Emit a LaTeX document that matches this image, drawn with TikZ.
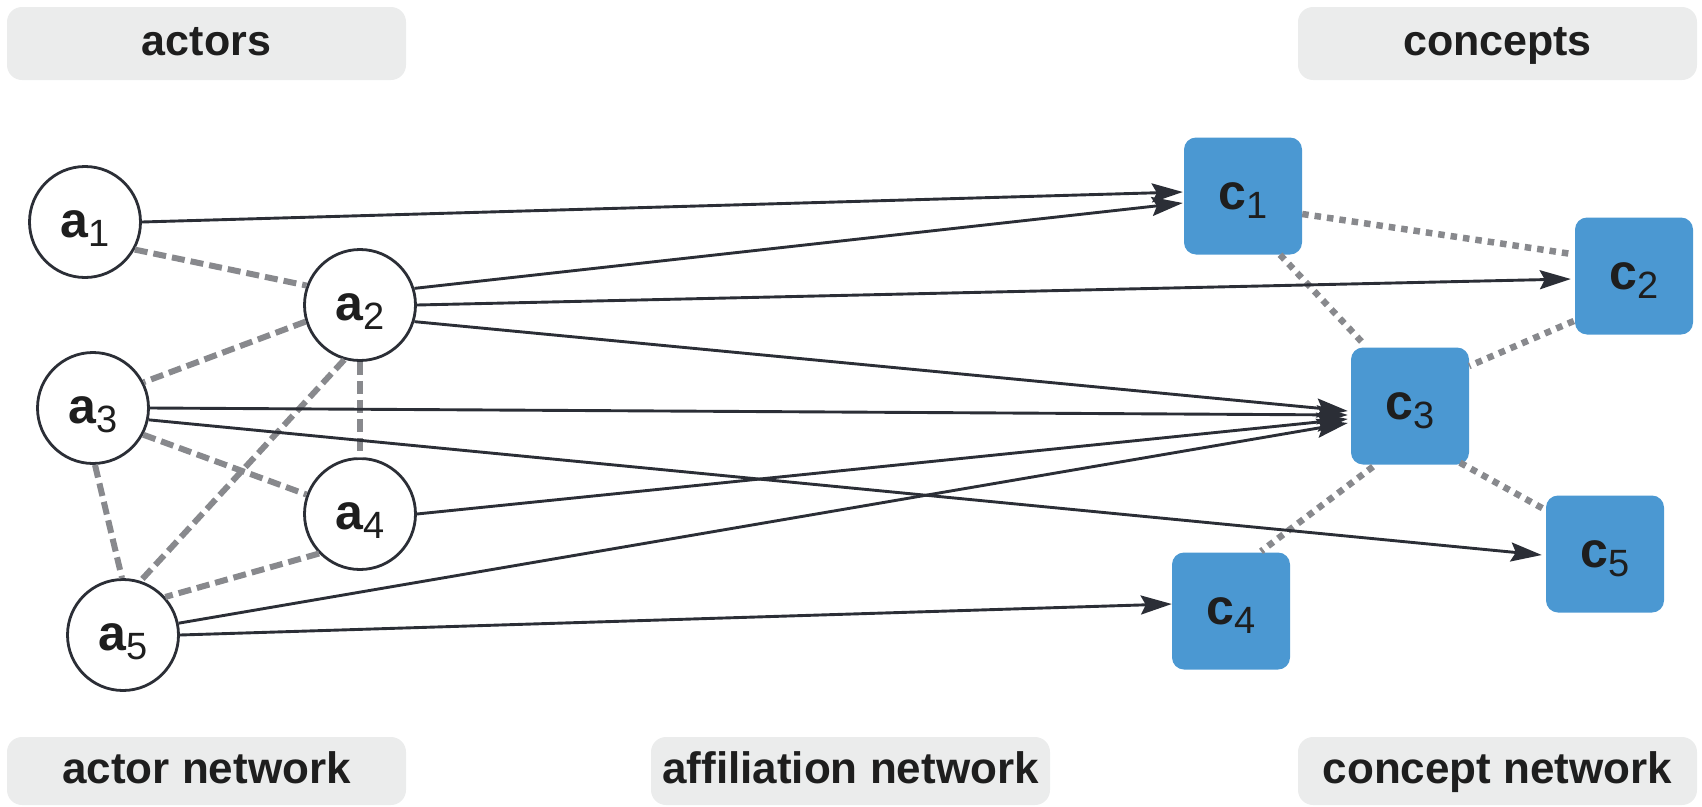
\documentclass[tikz,border=0pt]{standalone}
\usepackage{fontspec}
\setmainfont{Liberation Sans}
\usetikzlibrary{arrows.meta,calc}
\definecolor{ink}{HTML}{2B2E36}
\definecolor{dgray}{HTML}{88898D}
\definecolor{lgray}{HTML}{EBECEC}
\definecolor{txt}{HTML}{1E1E1E}
\definecolor{cblue}{HTML}{4B98D2}
\newcommand\nlab[2]{{\fontsize{50}{50}\selectfont\bfseries #1}\hspace{1pt}\raisebox{-9pt}{\fontsize{38}{38}\selectfont #2}}
\begin{document}
\begin{tikzpicture}[x=1pt,y=-1pt,
  actor/.style={circle,draw=ink,line width=2.8pt,fill=white,minimum size=111pt,inner sep=0pt,text height=30pt,text depth=0pt,text=txt},
  concept/.style={rectangle,fill=cblue,rounded corners=12pt,minimum width=118pt,minimum height=117pt,inner sep=0pt,text height=26pt,text depth=0pt,text=txt},
  lblbox/.style={fill=lgray,rounded corners=15pt,minimum width=399pt,inner sep=0pt,text height=24pt,text depth=0pt,font=\fontsize{44}{44}\selectfont\bfseries,text=txt},
  aff/.style={draw=ink,line width=2.9pt,-{Stealth[length=31pt,width=19pt,inset=5pt]}},
  anet/.style={draw=dgray,line width=6pt,dash pattern=on 13pt off 6pt},
  cnet/.style={draw=dgray,line width=6.5pt,dash pattern=on 6.5pt off 6pt},
]
\useasboundingbox (0,0) rectangle (1702,806);
% label boxes
\node[lblbox,minimum height=73pt,font=\fontsize{43}{43}\selectfont\bfseries] (lactors) at (206.5,43.5) {actors};
\node[lblbox,minimum height=73pt,font=\fontsize{43}{43}\selectfont\bfseries] (lconcepts) at (1497.5,43.5) {concepts};
\node[lblbox,minimum height=68pt] (lanet) at (206.5,771) {actor network};
\node[lblbox,minimum height=68pt] (laff) at (850.5,771) {affiliation network};
\node[lblbox,minimum height=68pt] (lcnet) at (1497.5,771) {concept network};
% actors
\node[actor] (a1) at (85,222) {\nlab{a}{1}};
\node[actor] (a2) at (360,305) {\nlab{a}{2}};
\node[actor] (a3) at (93,408) {\nlab{a}{3}};
\node[actor] (a4) at (360,514) {\nlab{a}{4}};
\node[actor] (a5) at (123,635) {\nlab{a}{5}};
% concepts
\node[concept] (c1) at (1243,196) {\nlab{c}{1}};
\node[concept] (c2) at (1634,276) {\nlab{c}{2}};
\node[concept] (c3) at (1410,406) {\nlab{c}{3}};
\node[concept] (c4) at (1231,611) {\nlab{c}{4}};
\node[concept] (c5) at (1605,554) {\nlab{c}{5}};
% actor network
\draw[anet] (a1.-29) -- (a2.160);
\draw[anet] (a2.197) -- (a3.27);
\draw[anet] (a2.south) -- (a4.north);
\draw[anet] (a2.-106) -- (a5.72);
\draw[anet] (a3.-28) -- (a4.160);
\draw[anet] (a3.-88) -- (a5.91);
\draw[anet] (a4.224) -- (a5.42);
% concept network
\draw[cnet] ($(c1.east)+(0,18)$) -- ($(c2.west)+(-3,-22)$);
\draw[cnet] ($(c1.south)+(37,0)$) -- ($(c3.north)+(-45,-2)$);
\draw[cnet] ($(c2.west)+(-1,45)$) -- ($(c3.east)+(0,-40)$);
\draw[cnet] ($(c3.south)+(-37,2)$) -- ($(c4.north)+(30,-1)$);
\draw[cnet] ($(c3.south)+(50,-2)$) -- ($(c5.west)+(-2,-45)$);
% affiliation network
\draw[aff] (a1.east) -- ($(c1.west)+(-1,-4)$);
\draw[aff] (a2.17) -- ($(c1.west)+(-1,7)$);
\draw[aff] (a2.east) -- ($(c2.west)+(-4,3)$);
\draw[aff] (a2.-17) -- ($(c3.west)+(-3,5)$);
\draw[aff] (a3.east) -- ($(c3.west)+(-3,9)$);
\draw[aff] (a4.east) -- ($(c3.west)+(-3,13)$);
\draw[aff] (a5.12) -- ($(c3.west)+(-3,17)$);
\draw[aff] (a3.-12) -- ($(c5.west)+(-4,1)$);
\draw[aff] (a5.east) -- ($(c4.west)+(0,-7)$);
\end{tikzpicture}
\end{document}
